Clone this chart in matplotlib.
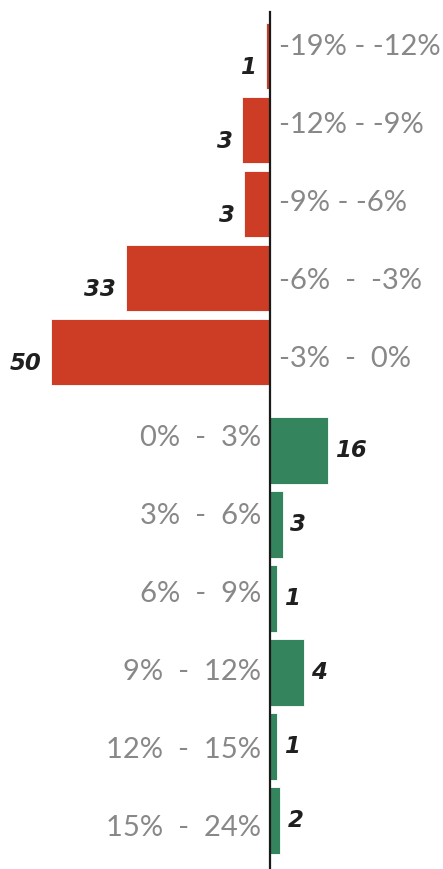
import matplotlib
matplotlib.use("Agg")
import matplotlib.pyplot as plt

categories = ["-19% - -12%", "-12% - -9%", "-9% - -6%", "-6%  -  -3%", "-3%  -  0%",
              "0%  -  3%", "3%  -  6%", "6%  -  9%", "9%  -  12%", "12%  -  15%", "15%  -  24%"]
counts = [1, 3, 3, 33, 50, 16, 3, 1, 4, 1, 2]
bar_lengths = [-0.9, -6.2, -5.8, -32.9, -50.1, 13.4, 3.1, 1.65, 7.8, 1.65, 2.5]

RED = "#CD3D26"
GREEN = "#34845E"

W, H = 443, 869
fig = plt.figure(figsize=(W / 100, H / 100), dpi=100)
ax = fig.add_axes([0, 0, 1, 1])

# layout: row pitch 74 px, extra gap between negative and positive groups
PITCH, TOP = 74.0, 56.0
GAP = 0.33
rows = [i + (GAP if v > 0 else 0) for i, v in enumerate(bar_lengths)]
colors = [RED if v < 0 else GREEN for v in bar_lengths]
ax.barh(rows, bar_lengths, height=0.9, color=colors, edgecolor="white", linewidth=0.6)

ax.set_xlim(-61.7, 39.7)
ax.set_ylim((H - TOP) / PITCH, -TOP / PITCH)
ax.axvline(0, ymin=0, ymax=1 - 12 / H, color="#1a1a1a", lw=1.6, zorder=5)

label_font = dict(family=["Lato", "DejaVu Sans"], fontweight="normal", color="#888888", fontsize=21)
value_font = dict(family=["DejaVu Sans"], fontweight="bold", fontstyle="italic", color="#1f1f1f", fontsize=16.5)

# category labels sit on their own uniform grid (47 px + 78.1 px per row)
for i, (cat, cnt, L, r) in enumerate(zip(categories, counts, bar_lengths, rows)):
    ly = (47 + 78.1 * i - TOP) / PITCH
    if L < 0:
        ax.annotate(cat, xy=(0, ly), xytext=(7, 0), textcoords="offset points",
                    ha="left", va="center", **label_font)
        ax.annotate(str(cnt), xy=(L, r), xytext=(-7, -8), textcoords="offset points",
                    ha="right", va="center", **value_font)
    else:
        ax.annotate(cat, xy=(0, ly), xytext=(-6, 0), textcoords="offset points",
                    ha="right", va="center", **label_font)
        ax.annotate(str(cnt), xy=(L, r), xytext=(5, 0), textcoords="offset points",
                    ha="left", va="center", **value_font)

ax.axis("off")
fig.savefig("out.png", dpi=100)
